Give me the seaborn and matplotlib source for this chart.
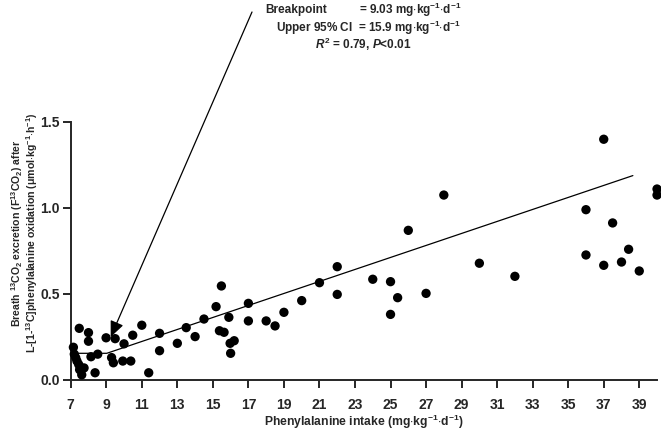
import numpy as np
import pandas as pd
import seaborn as sns
import matplotlib.pyplot as plt

# Phenylalanine intake vs F13CO2
intake = [7.15, 7.2, 7.28, 7.35, 7.45, 7.5, 7.62, 7.75, 7.48, 8.0, 8.0, 8.37, 8.14, 8.52,
          8.99, 9.5, 9.3, 9.4, 10.0, 9.93, 10.38, 10.49, 11.0, 11.39, 12.0, 12.0,
          13.0, 13.5, 14.0, 14.5, 15.18, 15.48, 15.37, 15.63, 15.9, 15.97, 16.0, 16.2,
          17.0, 17.0, 18.0, 18.5, 19.0, 20.0, 21.0, 22.0, 22.0, 24.0, 25.0, 25.0,
          25.4, 26.0, 27.0, 28.0, 30.0, 32.0, 36.0, 36.0, 37.0, 37.0, 37.5, 38.0,
          38.4, 39.0, 40.0, 40.0]
f13co2 = [0.19, 0.15, 0.13, 0.11, 0.09, 0.06, 0.03, 0.07, 0.30, 0.275, 0.225, 0.042, 0.135, 0.15,
          0.245, 0.24, 0.13, 0.10, 0.21, 0.11, 0.11, 0.26, 0.318, 0.042, 0.271, 0.17,
          0.213, 0.304, 0.252, 0.354, 0.426, 0.546, 0.286, 0.277, 0.364, 0.213, 0.155, 0.228,
          0.445, 0.343, 0.343, 0.314, 0.393, 0.461, 0.565, 0.658, 0.497, 0.585, 0.571, 0.381,
          0.478, 0.869, 0.503, 1.074, 0.678, 0.602, 0.989, 0.726, 1.398, 0.666, 0.912, 0.685,
          0.759, 0.633, 1.109, 1.074]

# two-phase linear regression line
fit_x = [7.0, 9.03, 38.64]
fit_y = [0.155, 0.155, 1.187]

arrow_tip = (9.25, 0.25)

xticks = list(range(7, 40, 2))
yticks = [0.0, 0.5, 1.0, 1.5]

df = pd.DataFrame({"intake": intake, "f13co2": f13co2})
df_fit = pd.DataFrame({"x": fit_x, "y": fit_y})

sns.set_style("ticks")
plt.rcParams['font.family'] = ['Liberation Sans', 'DejaVu Sans']
plt.rcParams['font.weight'] = 'bold'
plt.rcParams['mathtext.fontset'] = 'custom'
plt.rcParams['mathtext.rm'] = 'Liberation Sans:bold'
plt.rcParams['mathtext.bf'] = 'Liberation Sans:bold'
plt.rcParams['mathtext.it'] = 'Liberation Sans:italic:bold'

fig = plt.figure(figsize=(6.61, 4.30), dpi=100)
ax = fig.add_axes([0.107, 0.1163, 0.887, 0.6007])

sns.scatterplot(data=df, x="intake", y="f13co2", ax=ax, color="black", s=45,
                edgecolor="none", clip_on=False, zorder=3)
sns.lineplot(data=df_fit, x="x", y="y", ax=ax, color="black", lw=0.9, zorder=2)

ax.set_xlim(7, 40)
ax.set_ylim(0, 1.5)
ax.set_xticks(xticks)
ax.set_yticks(yticks)
ax.set_yticklabels([f"{v:.1f}" for v in yticks])
ax.set_xlabel("")
ax.set_ylabel("")
for s in ["top", "right"]:
    ax.spines[s].set_visible(False)
for s in ["left", "bottom"]:
    ax.spines[s].set_linewidth(1.4)
ax.tick_params(axis="both", width=1.4, length=6, labelsize=10, direction="out")
ax.tick_params(axis="x", pad=7)
ax.tick_params(axis="y", pad=2)
for lab in ax.get_xticklabels() + ax.get_yticklabels():
    lab.set_fontweight("bold")

# axis titles
fig.text(363.5 / 661, 1 - 421.7 / 430,
         r"Phenylalanine intake (mg$\cdot$kg$^{-1}$$\cdot$d$^{-1}$)",
         ha="center", va="center", fontsize=8.7, fontweight="bold")
fig.text(17 / 661, 1 - 233 / 430,
         r"Breath $^{13}$CO$_2$ excretion (F$^{13}$CO$_2$) after",
         ha="center", va="center", rotation=90, fontsize=7.6, fontweight="bold")
fig.text(32 / 661, 1 - 233 / 430,
         r"L-[1-$^{13}$C]phenylalanine oxidation (μmol$\cdot$kg$^{-1}$$\cdot$h$^{-1}$)",
         ha="center", va="center", rotation=90, fontsize=7.6, fontweight="bold")

# breakpoint annotation
ax.annotate("", xy=arrow_tip, xycoords="data",
            xytext=(252 / 661, 1 - 12 / 430), textcoords="figure fraction",
            arrowprops=dict(arrowstyle="-|>,head_length=0.8,head_width=0.35",
                            color="black", lw=0.9, mutation_scale=12,
                            shrinkA=0, shrinkB=0),
            annotation_clip=False)

fig.text(265 / 661, 1 - 10 / 430, "Breakpoint", ha="left", va="center",
         fontsize=8.5, fontweight="bold")
fig.text(461 / 661, 1 - 10 / 430, r"= 9.03 mg$\cdot$kg$^{-1}$$\cdot$d$^{-1}$",
         ha="right", va="center", fontsize=8.5, fontweight="bold")
fig.text(461 / 661, 1 - 27.5 / 430, r"Upper 95% CI  = 15.9 mg$\cdot$kg$^{-1}$$\cdot$d$^{-1}$",
         ha="right", va="center", fontsize=8.5, fontweight="bold")
fig.text(363 / 661, 1 - 44 / 430, r"$\mathit{R}^2$ = 0.79, $\mathit{P}$<0.01",
         ha="center", va="center", fontsize=8.5, fontweight="bold")

fig.savefig("out.png", dpi=100)
